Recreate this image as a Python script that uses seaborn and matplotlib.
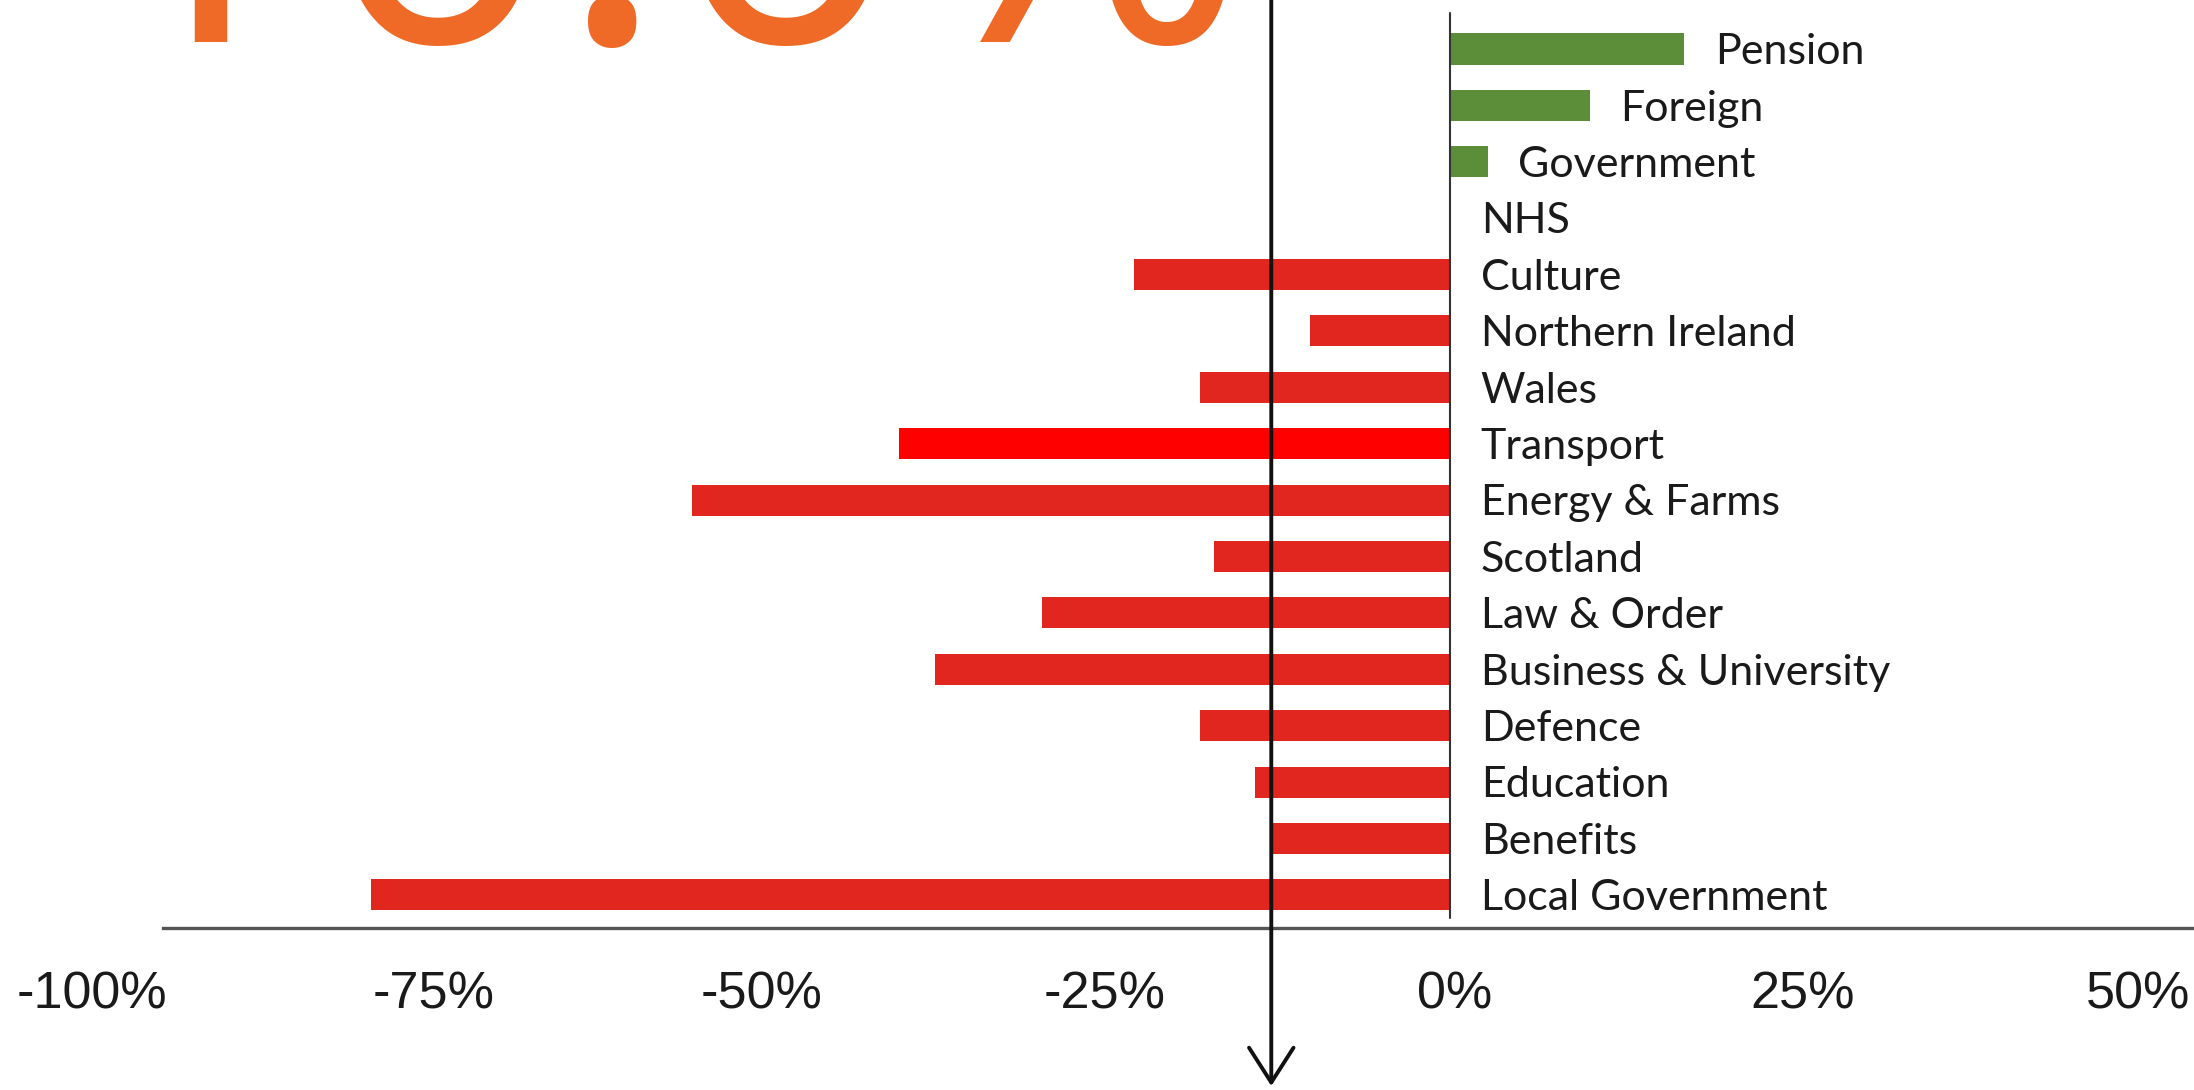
import matplotlib
matplotlib.use("Agg")
import matplotlib.pyplot as plt
from matplotlib.transforms import ScaledTranslation
import seaborn as sns
import pandas as pd

# Spending change by department, per cent
departments = [
    "Pension", "Foreign", "Government", "NHS", "Culture", "Northern Ireland",
    "Wales", "Transport", "Energy & Farms", "Scotland", "Law & Order",
    "Business & University", "Defence", "Education", "Benefits",
    "Local Government",
]
change_pct = [16.8, 10.0, 2.7, 0.0, -22.6, -10.0, -17.9, -39.5, -54.3,
              -16.9, -29.2, -36.9, -17.9, -14.0, -12.8, -77.3]

# Overall change marked by the arrow
total_change = -12.8
# Headline figure printed across the top
headline_pct = -10.0

tick_values = [-100, -75, -50, -25, 0, 25, 50]
tick_labels = [f"{t}%" for t in tick_values]

GREEN = "#5c8e3a"
RED = "#e0261f"
BRIGHT_RED = "#fe0000"
ORANGE = "#ef6a26"

palette = {}
for name, v in zip(departments, change_pct):
    if name == "Transport":
        palette[name] = BRIGHT_RED
    elif v > 0:
        palette[name] = GREEN
    else:
        palette[name] = RED

df = pd.DataFrame({"department": departments, "change": change_pct})

sns.set_theme(style="white")
plt.rcParams["font.family"] = ["Lato", "DejaVu Sans"]

fig = plt.figure(figsize=(21.94, 10.90), dpi=100)
ax = fig.add_axes([0, 0, 1, 1])

sns.barplot(data=df, x="change", y="department", hue="department",
            palette=palette, orient="h", width=0.55, linewidth=0,
            saturation=1, legend=False, ax=ax)

ax.set_xlim(-103.87, 53.30)
ax.set_ylim(18.46, -0.869)
ax.set_xlabel("")
ax.set_ylabel("")
ax.set_yticks([])

for side in ("top", "left", "right"):
    ax.spines[side].set_visible(False)
ax.spines["bottom"].set_position(("data", 15.585))
ax.spines["bottom"].set_bounds(-92.2, 53.30)
ax.spines["bottom"].set_color("#555555")
ax.spines["bottom"].set_linewidth(2.4)

ax.set_xticks(tick_values)
ax.set_xticklabels(tick_labels)
ax.tick_params(axis="x", length=0, pad=31, labelsize=37.5, labelcolor="#1a1a1a")
label_shift_px = [38, 31, 10, 4, 5, 4, -10]
for lbl, dx in zip(ax.get_xticklabels(), label_shift_px):
    lbl.set_fontfamily("Liberation Sans")
    lbl.set_transform(lbl.get_transform()
                      + ScaledTranslation(dx / 100, 0, fig.dpi_scale_trans))

# zero baseline
ax.plot([0, 0], [-0.64, 15.41], color="#333333", lw=1.5, zorder=3)

# department names beside each bar
for i, (name, v) in enumerate(zip(departments, change_pct)):
    ax.text(max(v, 0) + 2.2, i + 0.27, name, ha="left", va="baseline",
            fontsize=31, color="#1a1a1a", family=["Lato", "DejaVu Sans"])

# overall change arrow
ax.annotate("", xy=(total_change, 18.39), xytext=(total_change, -1.5),
            arrowprops=dict(arrowstyle="->,head_length=2.5,head_width=1.6",
                            lw=2.8, color="#111111", mutation_scale=10,
                            shrinkA=0, shrinkB=0),
            annotation_clip=False, zorder=5)

fig.text(1250 / 2194, 1 - 42 / 1090, f"{headline_pct:.1f}%", ha="right",
         va="baseline", fontsize=300, color=ORANGE,
         family=["Open Sans", "DejaVu Sans"])

fig.savefig("out.png", dpi=100, facecolor="white")
